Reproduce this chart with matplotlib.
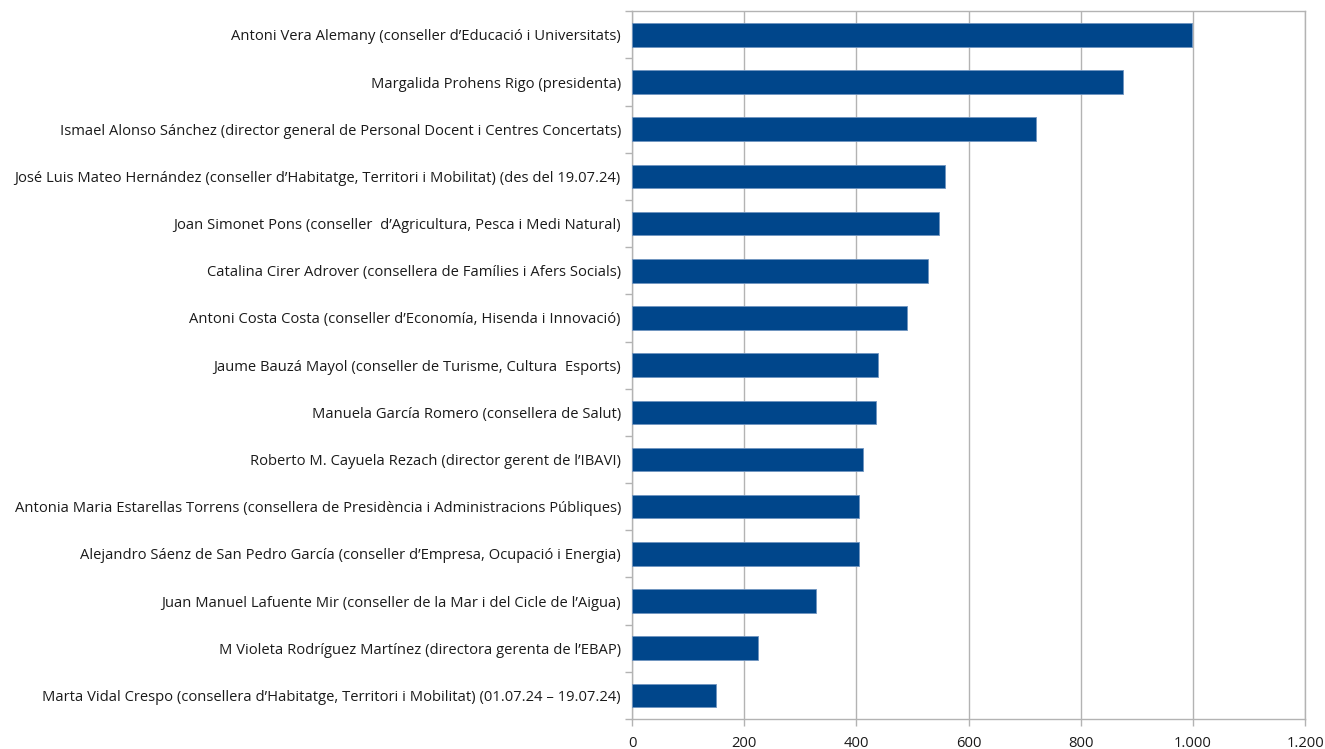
import matplotlib.pyplot as plt
from matplotlib.ticker import FuncFormatter, FixedLocator

# ==== Data (top to bottom as in the chart) ====
names = [
    "Antoni Vera Alemany (conseller d’Educació i Universitats)",
    "Margalida Prohens Rigo (presidenta)",
    "Ismael Alonso Sánchez (director general de Personal Docent i Centres Concertats)",
    "José Luis Mateo Hernández (conseller d’Habitatge, Territori i Mobilitat) (des del 19.07.24)",
    "Joan Simonet Pons (conseller  d’Agricultura, Pesca i Medi Natural)",
    "Catalina Cirer Adrover (consellera de Famílies i Afers Socials)",
    "Antoni Costa Costa (conseller d’Economía, Hisenda i Innovació)",
    "Jaume Bauzá Mayol (conseller de Turisme, Cultura  Esports)",
    "Manuela García Romero (consellera de Salut)",
    "Roberto M. Cayuela Rezach (director gerent de l’IBAVI)",
    "Antonia Maria Estarellas Torrens (consellera de Presidència i Administracions Públiques)",
    "Alejandro Sáenz de San Pedro García (conseller d’Empresa, Ocupació i Energia)",
    "Juan Manuel Lafuente Mir (conseller de la Mar i del Cicle de l’Aigua)",
    "M Violeta Rodríguez Martínez (directora gerenta de l’EBAP)",
    "Marta Vidal Crespo (consellera d’Habitatge, Territori i Mobilitat) (01.07.24 – 19.07.24)",
]
values = [998, 876, 720, 558, 548, 527, 491, 439, 435, 412, 405, 404, 328, 224, 149]
x_ticks = [0, 200, 400, 600, 800, 1000, 1200]

plt.rcParams['font.family'] = ['Open Sans', 'DejaVu Sans']

fig = plt.figure(figsize=(13.25, 7.49), dpi=100)
ax = fig.add_axes([0.477, 0.040, 0.508, 0.945])

pos = list(range(len(names)))
ax.barh(pos, values, height=0.5, color="#00468B", edgecolor="#6f94c0",
        linewidth=0.6, zorder=3)

ax.set_ylim(len(names) - 0.5, -0.5)
ax.set_xlim(0, 1200)

# --- gridlines and frame ---
ax.set_xticks(x_ticks)
ax.xaxis.set_major_formatter(FuncFormatter(lambda v, p: f"{int(v):,}".replace(",", ".")))
ax.grid(axis="x", color="#b3b3b3", linewidth=1, zorder=0)
for s in ax.spines.values():
    s.set_color("#b3b3b3")
    s.set_linewidth(1)

ax.set_yticks(pos)
ax.set_yticklabels(names)
ax.yaxis.set_minor_locator(FixedLocator([p - 0.5 for p in pos] + [len(names) - 0.5]))
ax.tick_params(axis="y", which="major", length=0, pad=8, labelsize=10.6, labelcolor="#1a1a1a")
ax.tick_params(axis="y", which="minor", length=5, color="#b3b3b3", width=1)
ax.tick_params(axis="x", which="major", length=5, color="#b3b3b3", width=1,
               labelsize=10.6, labelcolor="#1a1a1a", pad=7)

fig.savefig("out.png", dpi=100)
